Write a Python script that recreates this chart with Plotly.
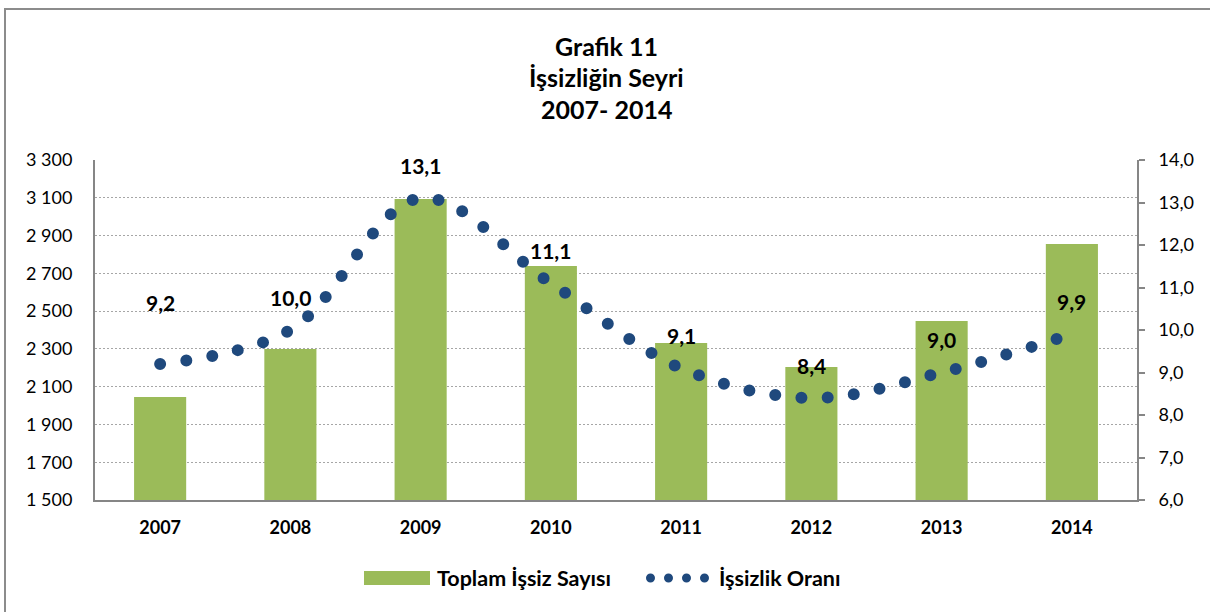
import plotly.graph_objects as go

years = ["2007", "2008", "2009", "2010", "2011", "2012", "2013", "2014"]
unemployed = [2045, 2299, 3093, 2739, 2331, 2204, 2448, 2855]
rate = [9.2, 10.0, 13.1, 11.1, 9.1, 8.4, 9.0, 9.9]
left_ticks = [1500, 1700, 1900, 2100, 2300, 2500, 2700, 2900, 3100, 3300]
right_ticks = [6, 7, 8, 9, 10, 11, 12, 13, 14]
title_lines = ["Grafik 11", "İşsizliğin Seyri", "2007- 2014"]

FONT = "Lato"
GREEN = "#9BBB59"
NAVY = "#1F497D"
AXIS = "#868686"

# plot area in pixels
L, R, T, B = 95, 1137, 160, 500
PW, PH = R - L, B - T

fig = go.Figure()
fig.add_trace(go.Bar(
    x=years, y=unemployed, name="Toplam İşsiz Sayısı",
    marker=dict(color=GREEN, line=dict(width=0)), width=0.4, yaxis="y",
))
fig.add_trace(go.Scatter(
    x=years, y=rate, name="İşsizlik Oranı", mode="lines", yaxis="y2",
    line=dict(color=NAVY, width=12, shape="spline", smoothing=1, dash="0px,26.3px"),
))

# data labels (category axis -> annotations use category index)
for i, r in enumerate(rate):
    fig.add_annotation(
        x=i, y=r, xref="x", yref="y2", text=f"{r:.1f}".replace(".", ","),
        showarrow=False, yshift=62 if i == 0 else 33,
        font=dict(family=FONT, size=21, color="black", weight="bold"),
    )

# title lines
for k, t in enumerate(title_lines):
    fig.add_annotation(
        x=(606 - L) / PW, y=(B - (46 + 31.5 * k)) / PH, xref="paper", yref="paper",
        yanchor="middle", text=t, showarrow=False,
        font=dict(family=FONT, size=25, color="black", weight="bold"),
    )

fig.update_layout(
    width=1210, height=612,
    margin=dict(l=L, r=1210 - R, t=T, b=612 - B),
    paper_bgcolor="white", plot_bgcolor="white",
    separators=", ",
    font=dict(family=FONT, size=18, color="black"),
    showlegend=True,
    legend=dict(orientation="h", x=(357 - L) / PW, xanchor="left",
                y=(B - 578) / PH, yanchor="middle",
                font=dict(family=FONT, size=21.5, color="black", weight="bold"),
                itemwidth=70, traceorder="normal", entrywidth=197, entrywidthmode="pixels"),
    xaxis=dict(type="category", showline=True, linecolor=AXIS, linewidth=2,
               ticks="", showgrid=False, tickfont=dict(family=FONT, size=18, weight="bold"),
               ticklabelstandoff=10, range=[-0.5, 7.5]),
    yaxis=dict(range=[1500, 3300], tickvals=left_ticks, tickformat=",d",
               showline=True, linecolor=AXIS, linewidth=2, ticks="",
               showgrid=True, gridcolor="#A6A6A6", griddash="2px,2px", gridwidth=1,
               zeroline=False, tickfont=dict(family=FONT, size=18), ticklabelstandoff=17),
    yaxis2=dict(range=[6, 14], tickvals=right_ticks, tickformat=".1f", overlaying="y",
                side="right", showline=True, linecolor=AXIS, linewidth=2,
                ticks="outside", ticklen=6, tickcolor=AXIS, tickwidth=2,
                showgrid=False, zeroline=False, tickfont=dict(family=FONT, size=18),
                ticklabelstandoff=10),
)

fig.add_shape(type="rect", xref="paper", yref="paper",
              x0=(5 - L) / PW, x1=(1230 - L) / PW,
              y0=(B - 630) / PH, y1=(B - 9) / PH,
              line=dict(color="#8C8C8C", width=2), fillcolor="rgba(0,0,0,0)", layer="below")

post = """
document.body.style.margin='0';
var gd = document.getElementById('{plot_id}');
function fixDots(){
  gd.querySelectorAll('.scatterlayer .js-line').forEach(function(p){
    p.style.strokeLinecap='round';
  });
  gd.querySelectorAll('.legend .legendlines .js-line').forEach(function(p){
    p.setAttribute('d','M11.5,0h56');
    p.style.strokeLinecap='round';
    p.style.strokeWidth='9px';
    p.style.strokeDasharray='0px,18px';
  });
  gd.querySelectorAll('.legend .legendpoints path').forEach(function(p){
    p.setAttribute('d','M-33,-7H33V7H-33Z');
  });
}
fixDots();
gd.on('plotly_afterplot', fixDots);
"""

fig.write_html("out.html", post_script=post, config={"displayModeBar": False})
